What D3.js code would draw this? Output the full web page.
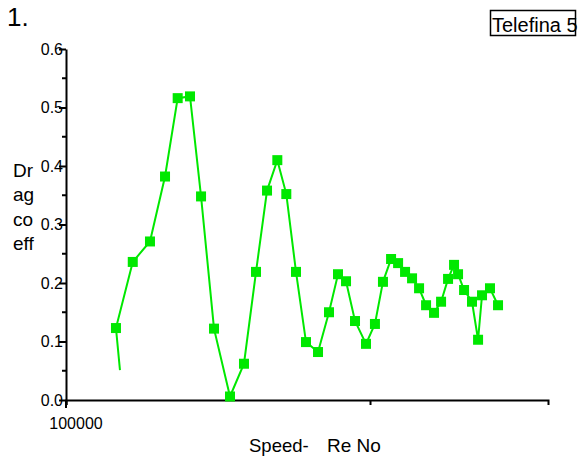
<!DOCTYPE html>
<html>
<head>
<meta charset="utf-8">
<script src="https://cdn.jsdelivr.net/npm/d3@7"></script>
<style>
  body { margin: 0; background: #fff; }
  svg { font-family: "Liberation Sans", Arial, sans-serif; }
  .axis path, .axis line { stroke: #000; stroke-width: 2; }
  .axis text { font-size: 16px; fill: #000; font-family: "Liberation Sans", Arial, sans-serif; }
</style>
</head>
<body>
<script>

// Reynolds number (x) and drag coefficient (y)
var reNo = [150500, 146000, 165800, 188900, 211700, 233000, 255800, 278100, 306800, 346300,
            385000, 421700, 458400, 495600, 530500, 570900, 615800, 674500, 733000, 784700,
            833900, 892600, 970100, 1038000, 1103000, 1173000, 1237000, 1304000, 1375000, 1450000,
            1529000, 1624000, 1713000, 1806000, 1890000, 1948000, 2039000, 2165000, 2267000, 2336000,
            2481000, 2637000];
var dragCoeff = [0.051, 0.123, 0.236, 0.271, 0.382, 0.516, 0.519, 0.348, 0.122, 0.006,
                 0.062, 0.219, 0.358, 0.410, 0.352, 0.219, 0.099, 0.082, 0.150, 0.215,
                 0.203, 0.135, 0.096, 0.130, 0.202, 0.241, 0.234, 0.219, 0.208, 0.191,
                 0.162, 0.149, 0.168, 0.207, 0.231, 0.215, 0.188, 0.168, 0.103, 0.179,
                 0.191, 0.162];

var yTicks = [0, 0.1, 0.2, 0.3, 0.4, 0.5, 0.6];
var yMinorTicks = [0.05, 0.15, 0.25, 0.35, 0.45, 0.55];
var xTicks = [100000, 1000000];
var xTickLabels = ["100000", ""];
var yLabelLines = ["Dr", "ag", "co", "eff"];

var data = reNo.map(function(r, i) { return {re: r, cd: dragCoeff[i]}; });

var W = 581, H = 456;
var margin = {top: 49, left: 66, right: 33, bottom: 56};

var x = d3.scaleLog().domain([100000, 3850000]).range([margin.left, W - margin.right]);
var y = d3.scaleLinear().domain([0, 0.6]).range([H - margin.bottom, margin.top]);

var svg = d3.select("body").append("svg")
    .attr("width", W)
    .attr("height", H);

var green = "#00e800";

// y axis
svg.append("g")
    .attr("class", "axis")
    .attr("transform", "translate(" + margin.left + ",0)")
    .call(d3.axisLeft(y).tickValues(yTicks).tickSize(7).tickSizeOuter(0).tickPadding(-4)
          .tickFormat(d3.format(".1f")));

svg.append("g")
    .attr("class", "axis")
  .selectAll("line")
    .data(yMinorTicks)
  .enter().append("line")
    .attr("x1", margin.left - 4)
    .attr("x2", margin.left)
    .attr("y1", function(d) { return y(d); })
    .attr("y2", function(d) { return y(d); });

// y axis runs a little below the x axis
svg.append("line")
    .attr("x1", margin.left).attr("x2", margin.left)
    .attr("y1", y(0)).attr("y2", y(0) + 8)
    .attr("stroke", "#000").attr("stroke-width", 2);

// x axis
var xAxis = svg.append("g")
    .attr("class", "axis")
    .attr("transform", "translate(0," + y(0) + ")")
    .call(d3.axisBottom(x).tickValues(xTicks).tickSize(5).tickSizeOuter(5)
          .tickFormat(function(d, i) { return xTickLabels[i]; }));

xAxis.selectAll(".tick text")
    .attr("dx", 9.5)
    .attr("dy", 0)
    .attr("y", 29);

// line and markers
var line = d3.line()
    .x(function(d) { return x(d.re); })
    .y(function(d) { return y(d.cd); });

svg.append("path")
    .datum(data)
    .attr("fill", "none")
    .attr("stroke", green)
    .attr("stroke-width", 2)
    .attr("d", line);

svg.selectAll(".marker")
    .data(data.slice(1))
  .enter().append("rect")
    .attr("class", "marker")
    .attr("x", function(d) { return x(d.re) - 5; })
    .attr("y", function(d) { return y(d.cd) - 5; })
    .attr("width", 10)
    .attr("height", 10)
    .attr("fill", green);

// titles
svg.append("text")
    .attr("x", 7)
    .attr("y", 26)
    .style("font-size", "26px")
    .text("1.");

svg.append("rect")
    .attr("x", 490.5)
    .attr("y", 10.5)
    .attr("width", 85)
    .attr("height", 25)
    .attr("fill", "none")
    .attr("stroke", "#000")
    .attr("stroke-width", 1.5);

svg.append("text")
    .attr("x", 492)
    .attr("y", 32)
    .style("font-size", "20px")
    .text("Telefina 5");

svg.append("text")
    .style("font-size", "19px")
  .selectAll("tspan")
    .data(yLabelLines)
  .enter().append("tspan")
    .attr("x", 13)
    .attr("y", function(d, i) { return 177 + i * 24.4; })
    .text(function(d) { return d; });

svg.append("text")
    .attr("x", 249)
    .attr("y", 452)
    .style("font-size", "18.5px")
    .text("Speed-");

svg.append("text")
    .attr("x", 327)
    .attr("y", 452)
    .style("font-size", "19px")
    .text("Re No");

</script>
</body>
</html>
